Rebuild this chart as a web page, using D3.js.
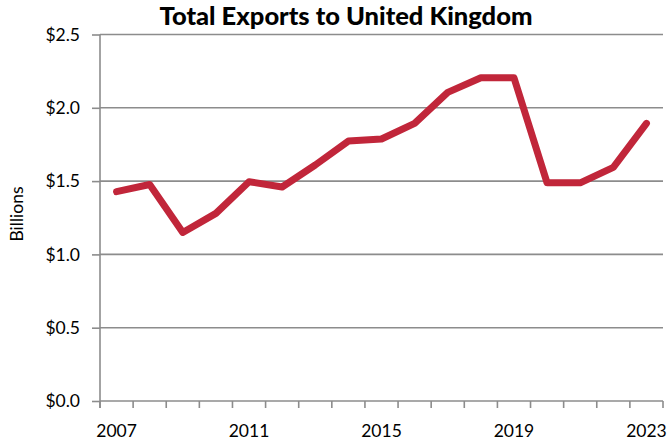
<!DOCTYPE html>
<html><head><meta charset="utf-8">
<script src="https://cdn.jsdelivr.net/npm/d3@7"></script>
<style>body{margin:0;background:#fff}svg{display:block}</style>
</head><body>
<svg id="c" width="668" height="444"></svg>
<script>
const years = ["2007","2008","2009","2010","2011","2012","2013","2014","2015","2016","2017","2018","2019","2020","2021","2022","2023"];
const exportsBillions = [1.428,1.477,1.15,1.28,1.496,1.46,1.61,1.773,1.787,1.894,2.105,2.205,2.205,1.488,1.488,1.594,1.894];
const yTicks = [0,0.5,1.0,1.5,2.0,2.5];
const xTickLabels = ["2007","2011","2015","2019","2023"];
const title = "Total Exports to United Kingdom";
const yTitle = "Billions";

const W=668,H=444, m={l:100,r:5,t:34.5,b:43};
const svg=d3.select("#c");
const font="Lato, 'Source Sans Pro', sans-serif";
const x=d3.scaleBand().domain(years).range([m.l,W-m.r]);
const y=d3.scaleLinear().domain([0,2.5]).range([H-m.b,m.t]);

// gridlines
svg.append("g").selectAll("line").data(yTicks.filter(d=>d>0)).join("line")
  .attr("x1",m.l).attr("x2",W-m.r).attr("y1",d=>y(d)).attr("y2",d=>y(d))
  .attr("stroke","#8c8c8c").attr("stroke-width",1.6);

// y axis
const ya=svg.append("g").attr("transform",`translate(${m.l},0)`)
  .call(d3.axisLeft(y).tickValues(yTicks).tickSize(8).tickPadding(12).tickFormat(d=>"$"+d3.format(".1f")(d)));
ya.select(".domain").attr("stroke","#8c8c8c").attr("stroke-width",1.6).attr("d",`M0,${m.t}V${H-m.b+7}`);
ya.selectAll(".tick line").attr("stroke","#8c8c8c").attr("stroke-width",1.6);
ya.selectAll(".tick text").attr("font-family",font).attr("font-size",17.5).attr("fill","#000");

// x axis
const xa=svg.append("g").attr("transform",`translate(0,${H-m.b})`)
  .call(d3.axisBottom(x).tickValues([]).tickSize(0));
xa.select(".domain").attr("stroke","#8c8c8c").attr("stroke-width",1.6).attr("d",`M${m.l},0H${W-m.r}`);
const bounds=years.map(d=>x(d)).concat([x(years[years.length-1])+x.bandwidth()]);
xa.selectAll(".bt").data(bounds).join("line").attr("class","bt")
  .attr("x1",d=>d).attr("x2",d=>d).attr("y1",0).attr("y2",7)
  .attr("stroke","#8c8c8c").attr("stroke-width",1.6);
xa.selectAll(".lb").data(xTickLabels).join("text").attr("class","lb")
  .attr("x",d=>x(d)+x.bandwidth()/2).attr("y",36).attr("text-anchor","middle")
  .attr("font-family",font).attr("font-size",17.5).attr("fill","#000").text(d=>d);

// line
const line=d3.line().x((d,i)=>x(years[i])+x.bandwidth()/2).y(d=>y(d));
svg.append("path").datum(exportsBillions).attr("d",line)
  .attr("fill","none").attr("stroke","#c1263a").attr("stroke-width",7)
  .attr("stroke-linejoin","round").attr("stroke-linecap","round");

// title
svg.append("text").attr("x",346).attr("y",25).attr("text-anchor","middle")
  .attr("font-family",font).attr("font-weight",900).attr("font-size",25.5).attr("fill","#000").text(title);
svg.append("text").attr("transform","translate(23,214) rotate(-90)").attr("text-anchor","middle")
  .attr("font-family",font).attr("font-size",17.5).attr("fill","#000").text(yTitle);
</script>
</body></html>
